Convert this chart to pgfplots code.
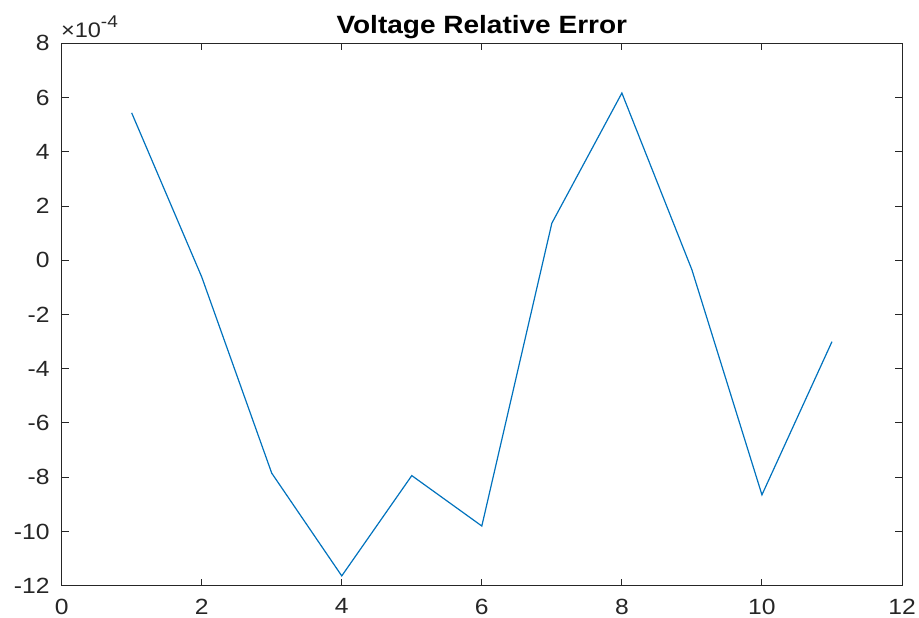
\documentclass[border=0pt]{standalone}
\usepackage{pgfplots}
\pgfplotsset{compat=1.18}
\usepackage{fontspec}
\setmainfont[FakeStretch=1.12]{Liberation Sans}
\definecolor{mblue}{rgb}{0,0.447,0.741}
\definecolor{axgray}{rgb}{0.15,0.15,0.15}
\begin{document}
\begin{tikzpicture}
\begin{axis}[
  name=ax,
  scale only axis,
  width=420pt, height=271pt,
  xmin=0, xmax=12, ymin=-12e-4, ymax=8e-4,
  xtick={0,2,...,12},
  ytick={-12e-4,-10e-4,-8e-4,-6e-4,-4e-4,-2e-4,0,2e-4,4e-4,6e-4,8e-4},
  scaled y ticks=base 10:4,
  ytick scale label code/.code={\fontsize{10.5}{12}\selectfont ×10\raisebox{0.45em}{\fontsize{8.5}{10}\selectfont #1}},
  every y tick scale label/.style={at={(rel axis cs:0,1)}, anchor=base west, inner sep=0pt, xshift=2pt, yshift=3pt, text=axgray},
  /pgf/number format/assume math mode=true,
  tick label style={font=\fontsize{11}{13}\selectfont, text=axgray},
  axis line style={axgray, line width=0.5pt},
  tick style={axgray, line width=0.5pt},
  major tick length=3.5pt,
  title={\textbf{Voltage Relative Error}},
  every axis title shift=0pt,
  title style={font=\fontsize{12.5}{14}\selectfont, at={(0.5,1)}, anchor=base, yshift=4.8pt, inner sep=0pt},
  xticklabel style={yshift=-3pt},
  yticklabel style={xshift=-2.5pt},
]
\addplot[color=mblue, line width=0.6pt] coordinates {
(1,5.44e-4) (2,-0.61e-4) (3,-7.85e-4) (4,-11.64e-4) (5,-7.94e-4) (6,-9.80e-4)
(7,1.37e-4) (8,6.17e-4) (9,-0.35e-4) (10,-8.65e-4) (11,-3.0e-4)
};
\end{axis}
\pgfresetboundingbox
\path ([xshift=-30.8pt,yshift=-16pt]ax.south west) rectangle ([xshift=8.5pt,yshift=21.7pt]ax.north east);
\end{tikzpicture}
\end{document}
